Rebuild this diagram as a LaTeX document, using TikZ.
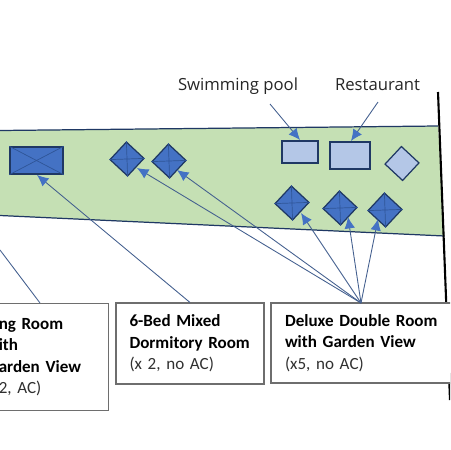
\documentclass[tikz,border=0pt]{standalone}
\usepackage{fontspec}
\setmainfont{Carlito}
\newfontfamily\signfont{Open Sans}
\usetikzlibrary{arrows, arrows.meta}
\definecolor{lawngreen}{HTML}{C5E0B4}
\definecolor{edgenavy}{HTML}{1F3864}
\definecolor{roomblue}{HTML}{4472C4}
\definecolor{hallblue}{HTML}{B4C7E7}
\definecolor{crossblue}{HTML}{2F5597}
\definecolor{leadblue}{HTML}{44608F}
\definecolor{boxgrey}{HTML}{6E6E6E}
\definecolor{notegrey}{HTML}{303030}
\newcommand{\roomname}[1]{{\bfseries #1}}
\newcommand{\roomnote}[1]{{\color{notegrey}#1}}
\tikzset{
	roomdiamond/.style={draw=edgenavy, line width=.7pt, fill=roomblue, rectangle, inner sep=0pt, minimum size=.48cm, rotate=47},
	halldiamond/.style={roomdiamond, fill=hallblue},
	hallrect/.style={draw=edgenavy, line width=.9pt, fill=hallblue, rectangle, inner sep=0pt},
	crossline/.style={draw=crossblue, line width=.4pt},
	lead/.style={draw=leadblue, line width=.5pt, -{Latex[length=6.5pt, width=6pt, color=roomblue]}},
	leadplain/.style={draw=leadblue, line width=.5pt},
	roombox/.style={draw=boxgrey, line width=.6pt, fill=white, rectangle, align=left, font=\fontsize{9.7}{12.2}\selectfont, inner ysep=0pt},
	signtext/.style={font=\signfont\fontsize{9.5}{12}\selectfont, anchor=base, text=black!85, inner sep=0pt}
}
\begin{document}
\begin{tikzpicture}[x=.02cm, y=-.02cm]
			\path[use as bounding box, clip] (0,0) rectangle (450,450);
			
			\coordinate (topleft) at (0,130.5);
			\coordinate (topright) at (438,126);
			\coordinate (botright) at (444.5,236);
			\coordinate (botleft) at (0,215.5);
			\coordinate (wallstart) at (438,92);
			\coordinate (wallend) at (450,400);
			
			\fill[lawngreen] (topleft) -- (topright) -- (botright) -- (botleft) -- cycle;
			\draw[edgenavy, line width=.7pt] (topleft) -- (topright);
			\draw[edgenavy, line width=.7pt] (botleft) -- (botright);
			\draw[black, line width=1.2pt] (wallstart) -- (wallend);
			
			\node[signtext] (poolsign) at (238,90) {Swimming pool};
			\node[signtext] (restsign) at (377.5,90) {Restaurant};
			
			\node[hallrect, minimum width=.72cm, minimum height=.44cm] (pool) at (300,152) {};
			\node[hallrect, minimum width=.8cm, minimum height=.54cm] (restaurant) at (350,155.5) {};
			\node[halldiamond] (hall) at (402,163.5) {};
			
			\node[draw=edgenavy, line width=.8pt, fill=roomblue, rectangle, inner sep=0pt, minimum width=1.06cm, minimum height=.54cm] (twin) at (36.5,160.5) {};
			\draw[crossline] (twin.north west) -- (twin.south east);
			\draw[crossline] (twin.south west) -- (twin.north east);
			
			\node[roomdiamond] (dorma) at (127,159) {};
			\node[roomdiamond] (dormb) at (169,161) {};
			\node[roomdiamond] (deluxa) at (292,203) {};
			\node[roomdiamond] (deluxb) at (340,208) {};
			\node[roomdiamond] (deluxc) at (385,210) {};
			\draw[crossline] (dorma.north west) -- (dorma.south east);
			\draw[crossline] (dorma.south west) -- (dorma.north east);
			\draw[crossline] (dormb.north west) -- (dormb.south east);
			\draw[crossline] (dormb.south west) -- (dormb.north east);
			\draw[crossline] (deluxa.north west) -- (deluxa.south east);
			\draw[crossline] (deluxa.south west) -- (deluxa.north east);
			\draw[crossline] (deluxb.north west) -- (deluxb.south east);
			\draw[crossline] (deluxb.south west) -- (deluxb.north east);
			\draw[crossline] (deluxc.north west) -- (deluxc.south east);
			\draw[crossline] (deluxc.south west) -- (deluxc.north east);
			
			\node[roombox, minimum width=2.748cm, minimum height=2.14cm, text width=2.17cm, inner xsep=.289cm] (gardenbox) at (40,357) {\hspace*{.26cm}\roomname{ng Room}\\\hspace*{.26cm}\roomname{ith}\\\hspace*{.26cm}\roomname{arden View}\\\hspace*{.26cm}\roomnote{2, AC)}};
			\node[roombox, minimum width=2.96cm, minimum height=1.62cm, text width=2.68cm, inner xsep=.14cm] (dormbox) at (190,343.5) {\hspace*{.13cm}\roomname{6-Bed Mixed}\\\hspace*{.13cm}\roomname{Dormitory Room}\\\hspace*{.13cm}\roomnote{(x 2, no AC)}};
			\node[roombox, minimum width=3.76cm, minimum height=1.6cm, text width=3.4cm, inner xsep=.18cm] (deluxbox) at (365,343) {\hspace*{.1cm}\roomname{Deluxe Double Room}\\\hspace*{.1cm}\roomname{with Garden View}\\\hspace*{.1cm}\roomnote{(x5, no AC)}};
			
			\coordinate (poolstart) at (270,104);
			\coordinate (pooltip) at (300,140);
			\coordinate (reststart) at (378,102);
			\coordinate (resttip) at (351,141);
			\coordinate (offleft) at (0,250);
			\coordinate (twintip) at (37,175);
			\coordinate (dormatip) at (137,168);
			\coordinate (dormbtip) at (177,170);
			\coordinate (deluxatip) at (301,213);
			\coordinate (deluxbtip) at (348,217);
			\coordinate (deluxctip) at (378,219);
			\coordinate (deluxfoot) at (361,303);
			
			\draw[lead] (poolstart) -- (pooltip);
			\draw[lead] (reststart) -- (resttip);
			\draw[leadplain] (gardenbox.north) -- (offleft);
			\draw[lead] (dormbox.north) -- (twintip);
			\draw[lead] (deluxfoot) -- (dormatip);
			\draw[lead] (deluxfoot) -- (dormbtip);
			\draw[lead] (deluxfoot) -- (deluxatip);
			\draw[lead] (deluxfoot) -- (deluxbtip);
			\draw[lead] (deluxfoot) -- (deluxctip);
		\end{tikzpicture}
\end{document}
